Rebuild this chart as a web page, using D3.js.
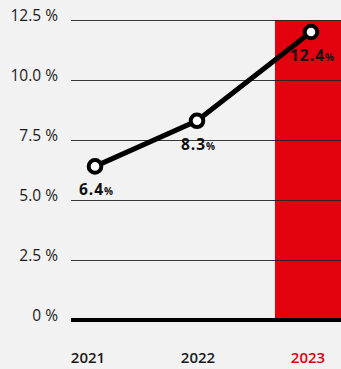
<!DOCTYPE html>
<html><head><meta charset="utf-8">
<script src="https://cdn.jsdelivr.net/npm/d3@7"></script>
<style>
html,body{margin:0;padding:0;background:#f2f2f2;}
svg{display:block;font-family:"Open Sans",sans-serif;}
</style></head><body>
<svg id="c" width="341" height="369"></svg>
<script>
const years = ["2021", "2022", "2023"];
const values = [6.4, 8.3, 12.0];          // plotted position
const valueLabels = ["6.4", "8.3", "12.4"]; // printed labels
const yTicks = [0, 2.5, 5, 7.5, 10, 12.5];
const yTickLabels = ["0 %", "2.5 %", "5.0 %", "7.5 %", "10.0 %", "12.5 %"];
const highlightYear = "2023";

const svg = d3.select("#c");
const red = "#e3000f";

const x = d3.scaleBand().domain(years).range([33, 363]).paddingInner(0.4).paddingOuter(0.2);
const y = d3.scaleLinear().domain([0, 12.5]).range([320, 20]);
const gx0 = 71, gx1 = 341;

svg.append("rect")
  .attr("x", x(highlightYear)).attr("width", x.bandwidth())
  .attr("y", y(12.5)).attr("height", y(0) - y(12.5))
  .attr("fill", red);

svg.append("g").selectAll("line").data(yTicks.filter(d => d > 0)).join("line")
  .attr("x1", gx0).attr("x2", gx1)
  .attr("y1", d => y(d) + 0.5).attr("y2", d => y(d) + 0.5)
  .attr("stroke", "#222").attr("stroke-opacity", 0.9).attr("stroke-width", 1);

svg.append("line").attr("x1", gx0).attr("x2", gx1)
  .attr("y1", y(0)).attr("y2", y(0))
  .attr("stroke", "#000").attr("stroke-width", 4);

svg.append("g").selectAll("text").data(yTicks).join("text")
  .attr("x", 58).attr("y", d => y(d) + 1)
  .attr("text-anchor", "end")
  .attr("font-size", 15.5).attr("font-weight", 500).attr("fill", "#1a1a1a")
  .text((d, i) => yTickLabels[i]);

svg.append("g").selectAll("text").data(years).join("text")
  .attr("x", d => x(d) + x.bandwidth() / 2).attr("y", 363)
  .attr("text-anchor", "middle")
  .attr("font-size", 15).attr("font-weight", 600)
  .attr("fill", d => d === highlightYear ? red : "#1a1a1a")
  .text(d => d);

const pts = years.map((yr, i) => ({ x: x(yr) + x.bandwidth() / 2 + [7, -1, 3][i], y: y(values[i]), lab: valueLabels[i] }));

svg.append("path").datum(pts)
  .attr("d", d3.line().x(d => d.x).y(d => d.y))
  .attr("fill", "none").attr("stroke", "#000").attr("stroke-width", 5);

svg.append("g").selectAll("circle").data(pts).join("circle")
  .attr("cx", d => d.x).attr("cy", d => d.y).attr("r", 6.3)
  .attr("fill", "#fff").attr("stroke", "#000").attr("stroke-width", 4);

const lt = svg.append("g").selectAll("text").data(pts).join("text")
  .attr("x", d => d.x + 1).attr("y", d => d.y + 29)
  .attr("text-anchor", "middle")
  .attr("font-weight", 700).attr("fill", "#111");
lt.append("tspan").attr("font-size", 15.5).attr("letter-spacing", 1).text(d => d.lab);
lt.append("tspan").attr("font-size", 10).attr("dx", 0).text("%");
</script>
</body></html>
